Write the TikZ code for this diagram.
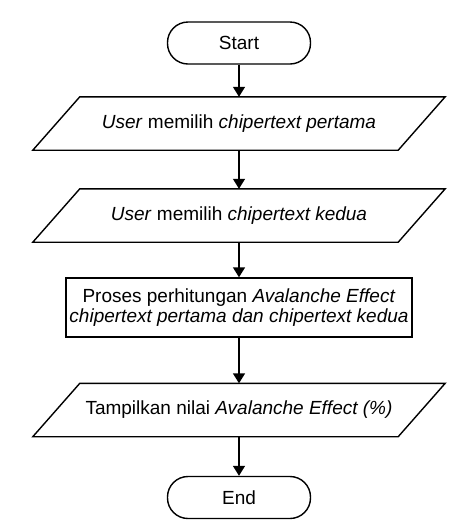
\documentclass[tikz,border=0pt]{standalone}
\usepackage{fontspec}
\setmainfont{Liberation Sans}
\usetikzlibrary{arrows.meta}
\begin{document}
\begin{tikzpicture}[x=1pt,y=-1pt,
  every node/.style={font=\fontsize{19}{20.5}\selectfont, text=black, inner sep=0pt},
  term/.style={draw, line width=1.4pt, rounded corners=20.5pt, minimum width=143pt, minimum height=42pt},
  iobox/.style={minimum width=365pt, minimum height=53pt},
  procbox/.style={draw, line width=1.4pt, minimum width=346pt, minimum height=59pt, align=center},
  flow/.style={line width=1.4pt, -{Triangle[length=10pt,width=12pt]}}
]
\useasboundingbox[fill=white] (0,0) rectangle (462,531);
\newcommand{\parabox}[1]{%
  \draw[line width=1.4pt] ([xshift=23.5pt]#1.north west) -- ([xshift=23.5pt]#1.north east)
    -- ([xshift=-23.5pt]#1.south east) -- ([xshift=-23.5pt]#1.south west) -- cycle;}
\node[term] (start) at (239,43) {Start};
\node[iobox] (p1) at (239,123.5) {\textit{User} memilih \textit{chipertext pertama}};
\node[iobox] (p2) at (239,215.5) {\textit{User} memilih \textit{chipertext kedua}};
\node[procbox] (proc) at (239,307.5) {Proses perhitungan \textit{Avalanche Effect}\\\textit{chipertext pertama dan chipertext kedua}};
\node[iobox] (p3) at (239,410) {Tampilkan nilai \textit{Avalanche Effect (\%)}};
\node[term] (end) at (239,497.5) {End};
\parabox{p1}
\parabox{p2}
\parabox{p3}
\draw[flow] (start) -- (p1);
\draw[flow] (p1) -- (p2);
\draw[flow] (p2) -- (proc);
\draw[flow] (proc) -- (p3);
\draw[flow] (p3) -- (end);
\end{tikzpicture}
\end{document}
